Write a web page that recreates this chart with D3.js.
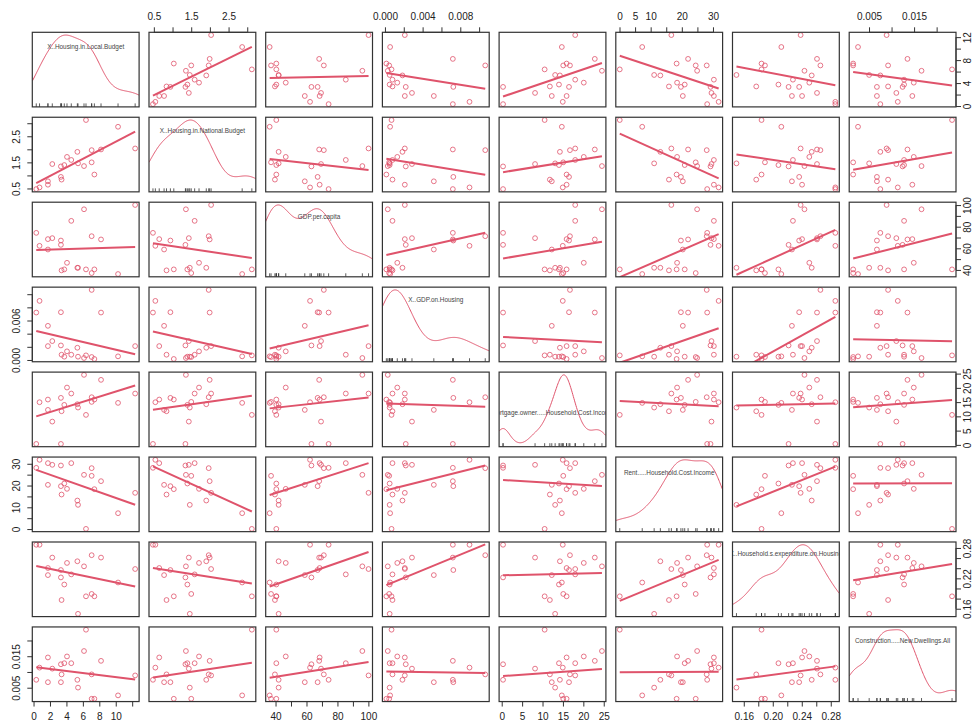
<!DOCTYPE html>
<html>
<head>
<meta charset="utf-8">
<script src="https://cdn.jsdelivr.net/npm/d3@7"></script>
<style>
  body { margin: 0; background: #fff; }
  text { font-family: "Liberation Sans", Arial, sans-serif; }
</style>
</head>
<body>
<svg id="spm" width="979" height="722"></svg>
<script>
// variable names as printed on the diagonal
const varNames = [
  "X..Housing.in.Local.Budget",
  "X..Housing.in.National.Budget",
  "GDP.per.capita",
  "X..GDP.on.Housing",
  "Mortgage.owner.....Household.Cost.Income",
  "Rent.....Household.Cost.Income",
  "X..Household.s.expenditure.on.Housing",
  "Construction.....New.Dwellings.All"
]

// one value per country, same order in every array
const localBudget    = [0.33, 0.73, 1.75, 1.75, 2.28, 3.33, 3.33, 3.41, 3.74, 4.07, 4.59, 5.33, 5.41, 6.14, 6.38, 7.07, 7.07, 7.40, 8.21, 10.28, 12.36]
const nationalBudget = [0.476, 0.54, 0.644, 0.774, 1.436, 0.943, 1.345, 0.839, 1.397, 1.709, 1.592, 1.903, 1.462, 1.358, 3.123, 1.968, 1.501, 1.034, 1.994, 2.864, 2.033]
const gdpPerCapita   = [74.3, 62.3, 68.5, 58.9, 69.4, 67.2, 63.2, 39.6, 40.5, 46.6, 85.4, 42.0, 42.0, 96.1, 40.5, 71.2, 37.1, 40.5, 68.2, 36.2, 100.1]
const gdpOnHousing   = [0.00721, 0.00898, 0.00211, 0.00519, 0.00287, 0.00726, 0.00221, 0.00080, 0.00050, 0.00131, 0.00080, 0.00186, 0.00050, 0.00030, 0.00070, 0.01065, 0.00045, 0.00015, 0.00721, 0.00055, 0.00211]
const mortgageCost   = [0.33, 14.96, 15.90, 12.27, 8.17, 16.49, 0.33, 11.80, 14.03, 20.11, 18.01, 14.26, 13.09, 24.56, 10.52, 16.72, 15.08, 15.90, 22.81, 14.73, 18.01]
const rentCost       = [28.14, 31.82, 30.29, 20.32, 29.52, 19.71, 29.21, 15.87, 20.93, 18.48, 30.29, 13.11, 11.12, 24.92, 0.08, 27.99, 24.46, 18.33, 22.01, 7.29, 16.64]
const householdExp   = [0.2863, 0.2863, 0.2404, 0.2264, 0.2610, 0.2364, 0.2218, 0.1772, 0.2078, 0.2504, 0.2278, 0.2537, 0.1499, 0.2437, 0.1845, 0.2657, 0.1892, 0.1845, 0.2610, 0.2118, 0.2384]
const construction   = [0.00751, 0.01138, 0.01461, 0.00675, 0.01106, 0.00675, 0.01245, 0.00923, 0.01278, 0.01493, 0.01278, 0.00751, 0.00503, 0.01665, 0.02342, 0.00923, 0.00148, 0.00148, 0.01353, 0.00256, 0.00890]

// tick positions for each variable
const tickVals = [
  [0, 2, 4, 6, 8, 10, 12],
  [0.5, 1, 1.5, 2, 2.5, 3],
  [40, 50, 60, 70, 80, 90, 100],
  [0, 0.002, 0.004, 0.006, 0.008, 0.010],
  [0, 5, 10, 15, 20, 25],
  [0, 5, 10, 15, 20, 25, 30],
  [0.16, 0.18, 0.20, 0.22, 0.24, 0.26, 0.28],
  [0.005, 0.010, 0.015, 0.020]
]
// which ticks carry a label, per side (R drops the ones that would overlap)
const topLabels    = { 1: [0.5, 1.5, 2.5], 3: [0, 0.004, 0.008], 5: [0, 5, 10, 20, 30], 7: [0.005, 0.015] }
const bottomLabels = { 0: [0, 2, 4, 6, 8, 10], 2: [40, 60, 80, 100], 4: [0, 5, 10, 15, 20, 25], 6: [0.16, 0.20, 0.24, 0.28] }
const leftLabels   = { 1: [0.5, 1.5, 2.5], 3: [0, 0.006], 5: [0, 10, 20, 30], 7: [0.005, 0.015] }
const rightLabels  = { 0: [0, 4, 8, 12], 2: [40, 60, 80, 100], 4: [0, 5, 10, 15, 20, 25], 6: [0.16, 0.22, 0.28] }
const labelFormat = ["d", ".1f", "d", ".3f", "d", "d", ".2f", ".3f"].map(f => d3.format(f))

const vars = [localBudget, nationalBudget, gdpPerCapita, gdpOnHousing, mortgageCost, rentCost, householdExp, construction]

// panel extents (data range plus R's 4% padding)
const panelRange = vars.map(v => {
  const [lo, hi] = d3.extent(v)
  const pad = (hi - lo) * 0.04
  return [lo - pad, hi + pad]
})

// Layout
const svg = d3.select("#spm")
const left0 = 32.3, top0 = 32.3
const colStep = 116.7, rowStep = 84.95
const pw = 106.8, ph = 74.6
const red = "#DF536B"
// how far below the panel top each diagonal name sits
const nameDrop = [14, 13, 14, 13, 41, 16, 12, 14]
const defs = svg.append("defs")

const scaleX = (j) => d3.scaleLinear().domain(panelRange[j]).range([left0 + j * colStep, left0 + j * colStep + pw])
const scaleY = (i) => d3.scaleLinear().domain(panelRange[i]).range([top0 + i * rowStep + ph, top0 + i * rowStep])

// bandwidth like R's bw.nrd0
const bwNrd0 = (v) => {
  const s = v.slice().sort(d3.ascending)
  const iqr = d3.quantileSorted(s, 0.75) - d3.quantileSorted(s, 0.25)
  const lo = Math.min(d3.deviation(v), iqr / 1.34)
  return 0.9 * lo * Math.pow(v.length, -0.2)
}

vars.forEach((yv, i) => {
  vars.forEach((xv, j) => {
    const x = scaleX(j)
    const y = scaleY(i)
    const x0 = x.range()[0], y0 = y.range()[1]
    const id = "clip-" + i + "-" + j
    defs.append("clipPath").attr("id", id)
      .append("rect").attr("x", x0).attr("y", y0).attr("width", pw).attr("height", ph)

    const g = svg.append("g").attr("clip-path", "url(#" + id + ")")

    if (i === j) {
      // density curve scaled into the variable's own range
      const bw = bwNrd0(xv)
      const grid = d3.range(0, 201).map(k => panelRange[j][0] + k * (panelRange[j][1] - panelRange[j][0]) / 200)
      const dens = grid.map(gx => [gx, d3.mean(xv, d => Math.exp(-0.5 * ((gx - d) / bw) ** 2) / (bw * Math.sqrt(2 * Math.PI)))])
      const yd = d3.scaleLinear()
        .domain([0, d3.max(dens, d => d[1])])
        .range([y(d3.min(xv)), y(d3.max(xv))])

      g.append("path")
        .attr("d", d3.line().x(d => x(d[0])).y(d => yd(d[1]))(dens))
        .attr("fill", "none")
        .attr("stroke", red)
        .attr("stroke-width", 1)

      // rug
      g.selectAll(".rug").data(xv).enter().append("line")
        .attr("x1", d => x(d)).attr("x2", d => x(d))
        .attr("y1", y0 + ph).attr("y2", y0 + ph - 3.5)
        .attr("stroke", "#333").attr("stroke-width", 0.8)

      g.append("text")
        .attr("x", x0 + pw / 2)
        .attr("y", y0 + nameDrop[i] + 2.3)
        .attr("text-anchor", "middle")
        .style("font-size", "6.4px")
        .attr("fill", "#444")
        .text(varNames[i])
    } else {
      // least squares line over the x data range
      const mx = d3.mean(xv), my = d3.mean(yv)
      const sxy = d3.sum(xv, (d, k) => (d - mx) * (yv[k] - my))
      const sxx = d3.sum(xv, d => (d - mx) ** 2)
      const b = sxy / sxx, a = my - b * mx
      const [xmin, xmax] = d3.extent(xv)

      g.selectAll(".pt").data(xv).enter().append("circle")
        .attr("cx", d => x(d))
        .attr("cy", (d, k) => y(yv[k]))
        .attr("r", 2.4)
        .attr("fill", "none")
        .attr("stroke", red)
        .attr("stroke-width", 0.8)

      g.append("line")
        .attr("x1", x(xmin)).attr("y1", y(a + b * xmin))
        .attr("x2", x(xmax)).attr("y2", y(a + b * xmax))
        .attr("stroke", red)
        .attr("stroke-width", 2)
    }

    svg.append("rect")
      .attr("x", x0).attr("y", y0).attr("width", pw).attr("height", ph)
      .attr("fill", "none").attr("stroke", "#333").attr("stroke-width", 1.2)
  })
})

// Axes
const styleAxis = (sel, k, labels) => {
  sel.select(".domain").remove()
  sel.selectAll(".tick line").attr("stroke", "#333")
  sel.selectAll(".tick text")
    .style("font-size", "10px")
    .attr("fill", "#222")
    .text(d => labels.some(l => Math.abs(l - d) < 1e-9) ? labelFormat[k](d) : "")
}

vars.forEach((v, k) => {
  const x = scaleX(k), y = scaleY(k)
  const tv = tickVals[k]
  const xa = [x(tv[0]), x(tv[tv.length - 1])]
  const ya = [y(tv[0]), y(tv[tv.length - 1])]

  if (topLabels[k]) {
    const ax = svg.append("g").attr("transform", "translate(0," + top0 + ")")
      .call(d3.axisTop(x).tickValues(tv).tickSize(5).tickPadding(7))
    styleAxis(ax, k, topLabels[k])
    ax.append("line").attr("x1", xa[0]).attr("x2", xa[1]).attr("stroke", "#333")
  }
  if (bottomLabels[k]) {
    const yb = top0 + 7 * rowStep + ph
    const ax = svg.append("g").attr("transform", "translate(0," + yb + ")")
      .call(d3.axisBottom(x).tickValues(tv).tickSize(5).tickPadding(6))
    styleAxis(ax, k, bottomLabels[k])
    ax.append("line").attr("x1", xa[0]).attr("x2", xa[1]).attr("stroke", "#333")
  }
  if (leftLabels[k]) {
    const ax = svg.append("g").attr("transform", "translate(" + left0 + ",0)")
      .call(d3.axisLeft(y).tickValues(tv).tickSize(5))
    styleAxis(ax, k, leftLabels[k])
    ax.selectAll(".tick text")
      .attr("x", 0).attr("dy", 0)
      .attr("text-anchor", "middle")
      .attr("transform", "translate(-12.5,0) rotate(-90)")
    ax.append("line").attr("y1", ya[0]).attr("y2", ya[1]).attr("stroke", "#333")
  }
  if (rightLabels[k]) {
    const xr = left0 + 7 * colStep + pw
    const ax = svg.append("g").attr("transform", "translate(" + xr + ",0)")
      .call(d3.axisRight(y).tickValues(tv).tickSize(5))
    styleAxis(ax, k, rightLabels[k])
    ax.selectAll(".tick text")
      .attr("x", 0).attr("dy", 0)
      .attr("text-anchor", "middle")
      .attr("transform", "translate(14.5,0) rotate(-90)")
    ax.append("line").attr("y1", ya[0]).attr("y2", ya[1]).attr("stroke", "#333")
  }
})
</script>
</body>
</html>
